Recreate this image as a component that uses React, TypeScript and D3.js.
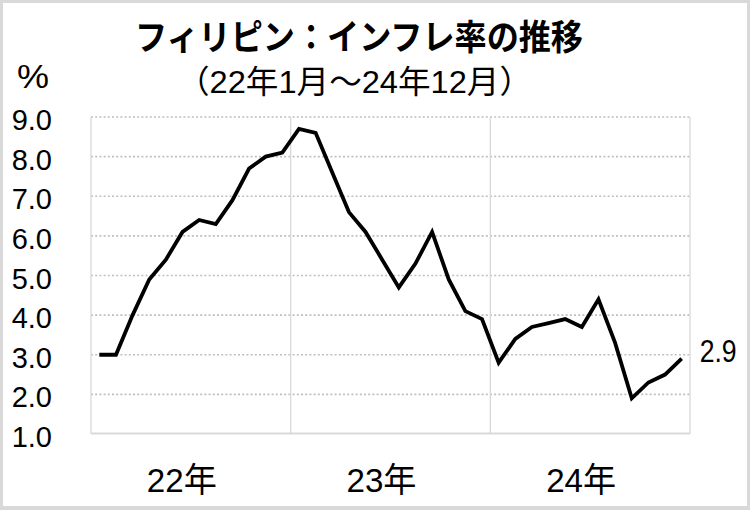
import React from "react";
import * as d3 from "d3";

const years = ["22年", "23年", "24年"];
const monthsPerYear = ["1", "2", "3", "4", "5", "6", "7", "8", "9", "10", "11", "12"];
const inflation = [
  3.0, 3.0, 4.0, 4.9, 5.4, 6.1, 6.4, 6.3, 6.9, 7.7, 8.0, 8.1,
  8.7, 8.6, 7.6, 6.6, 6.1, 5.4, 4.7, 5.3, 6.1, 4.9, 4.1, 3.9,
  2.8, 3.4, 3.7, 3.8, 3.9, 3.7, 4.4, 3.3, 1.9, 2.3, 2.5, 2.9,
];
const yTicks = [1, 2, 3, 4, 5, 6, 7, 8, 9];
const title = "フィリピン：インフレ率の推移";
const subtitle = "（22年1月～24年12月）";
const unitLabel = "%";

const W = 750;
const H = 510;
const plot = { left: 91, right: 690, top: 117, bottom: 434 };

export default function App() {
  const keys: string[] = [];
  years.forEach((y) => monthsPerYear.forEach((m) => keys.push(`${y}-${m}`)));

  const x = d3.scaleBand<string>().domain(keys).range([plot.left, plot.right]).padding(0);
  const y = d3.scaleLinear().domain([1, 9]).range([plot.bottom, plot.top]);
  const bw = x.bandwidth();
  const cx = (i: number) => (x(keys[i]) as number) + bw / 2;

  const line = d3
    .line<number>()
    .x((_, i) => cx(i))
    .y((d) => y(d));

  const yearStarts = years.map((yr) => x(`${yr}-1`) as number);
  const lastIdx = inflation.length - 1;
  const lastVal = inflation[lastIdx];

  const latin = "'Liberation Sans', Arial, 'Noto Sans CJK JP', sans-serif";
  const cjk = "'Noto Sans CJK JP', 'Liberation Sans', sans-serif";

  return (
    <svg
      width={W}
      height={H}
      viewBox={`0 0 ${W} ${H}`}
      style={{ position: "fixed", left: 0, top: 0, display: "block" }}
    >
      <rect x={0} y={0} width={W} height={H} fill="#d9d9d9" />
      <rect x={3} y={3} width={W - 6} height={H - 7} fill="#ffffff" />

      <text
        x={359}
        y={50}
        textAnchor="middle"
        fontFamily={cjk}
        fontWeight={700}
        fontSize={35}
        textLength={448}
        lengthAdjust="spacingAndGlyphs"
        fill="#000"
      >
        {title}
      </text>
      <text
        x={354.5}
        y={93}
        textAnchor="middle"
        fontFamily={latin}
        fontSize={32}
        textLength={355}
        lengthAdjust="spacingAndGlyphs"
        fill="#000"
      >
        {subtitle}
      </text>

      <text
        x={17}
        y={88}
        fontFamily={latin}
        fontSize={34}
        textLength={32}
        lengthAdjust="spacingAndGlyphs"
        fill="#000"
      >
        {unitLabel}
      </text>

      {/* horizontal dotted gridlines */}
      {yTicks
        .filter((t) => t > 1)
        .map((t) => (
          <line
            key={`g${t}`}
            x1={plot.left}
            x2={plot.right}
            y1={y(t)}
            y2={y(t)}
            stroke="#bfbfbf"
            strokeWidth={1.6}
            strokeDasharray="2 2.2"
          />
        ))}

      {/* vertical year lines */}
      {yearStarts.map((xs, i) => (
        <line key={`v${i}`} x1={xs} x2={xs} y1={plot.top} y2={plot.bottom} stroke="#d9d9d9" strokeWidth={1.3} />
      ))}
      <line x1={plot.right} x2={plot.right} y1={plot.top} y2={plot.bottom} stroke="#d9d9d9" strokeWidth={1.3} />
      <line x1={plot.left} x2={plot.right} y1={y(1) - 0.5} y2={y(1) - 0.5} stroke="#d9d9d9" strokeWidth={2} />

      {/* y labels */}
      {yTicks.map((t) => (
        <text
          key={`yl${t}`}
          x={52}
          y={y(t) + 13}
          textAnchor="end"
          fontFamily={latin}
          fontSize={29}
          fill="#000"
        >
          {t.toFixed(1)}
        </text>
      ))}

      {/* x labels */}
      {years.map((yr, i) => (
        <text
          key={`xl${yr}`}
          x={yearStarts[i] + bw * 6 - 9}
          y={492}
          textAnchor="middle"
          fontFamily={latin}
          fontSize={34}
          textLength={70}
          lengthAdjust="spacingAndGlyphs"
          fill="#000"
        >
          {yr}
        </text>
      ))}

      <path d={line(inflation) || ""} fill="none" stroke="#000" strokeWidth={3.8} strokeLinejoin="miter" />

      <text
        x={cx(lastIdx) + 18}
        y={y(lastVal) + 3}
        fontFamily={latin}
        fontSize={32}
        textLength={37}
        lengthAdjust="spacingAndGlyphs"
        fill="#000"
      >
        {lastVal.toFixed(1)}
      </text>
    </svg>
  );
}
